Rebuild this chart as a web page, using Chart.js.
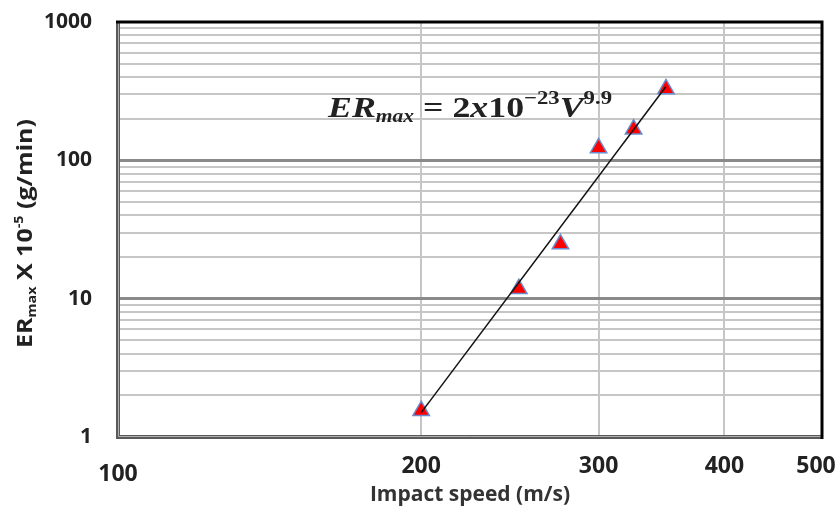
<!DOCTYPE html>
<html>
<head>
<meta charset="utf-8">
<script src="https://cdn.jsdelivr.net/npm/chart.js@4.4.1/dist/chart.umd.min.js"></script>
<style>
  html, body { margin: 0; padding: 0; background: #fff; }
</style>
</head>
<body>
<canvas id="erChart" width="840" height="513"></canvas>
<script>
// data
const speeds = [200, 250, 275, 300, 325, 350];
const erMax = [1.55, 11.8, 24.8, 123, 168, 328];
// fitted power line, two end points
const fitSpeeds = [200, 350];
const fitEr = [1.5, 342];

const xTicks = [100, 200, 300, 400, 500];
const yDecades = [1, 10, 100, 1000];
const yMinor = [1, 2, 3, 4, 5, 6, 7, 8, 9];

let yTicks = [];
yDecades.slice(0, 3).forEach(d => yMinor.forEach(m => yTicks.push(d * m)));
yTicks.push(1000);

const tickFont = '"Open Sans", sans-serif';
const serif = '"Liberation Serif", serif';

// draw a run of text pieces (for sub/superscripts), squeezed to a width
const drawRuns = (ctx, runs, x, y, width) => {
  let total = 0;
  runs.forEach(r => { ctx.font = r.f; total += ctx.measureText(r.t).width; });
  const sx = width / total;
  ctx.save();
  ctx.translate(x, y);
  ctx.scale(sx, 1);
  let cx = 0;
  runs.forEach(r => {
    ctx.font = r.f;
    ctx.fillText(r.t, cx, r.dy || 0);
    cx += ctx.measureText(r.t).width;
  });
  ctx.restore();
}

const extras = {
  id: 'extras',
  beforeDatasetsDraw(chart) {
    const { ctx, chartArea: a } = chart;
    ctx.save();
    // left + bottom frame, grey double line
    ctx.strokeStyle = '#5a5a5a';
    ctx.lineWidth = 4;
    ctx.beginPath();
    ctx.moveTo(a.left, a.top);
    ctx.lineTo(a.left, a.bottom);
    ctx.lineTo(a.right, a.bottom);
    ctx.stroke();
    ctx.strokeStyle = '#b0b0b0';
    ctx.lineWidth = 1;
    ctx.beginPath();
    ctx.moveTo(a.left + 0.5, a.top);
    ctx.lineTo(a.left + 0.5, a.bottom - 0.5);
    ctx.lineTo(a.right, a.bottom - 0.5);
    ctx.stroke();
    // top + right frame, black
    ctx.strokeStyle = '#000';
    ctx.lineWidth = 3;
    ctx.beginPath();
    ctx.moveTo(a.left - 2, a.top);
    ctx.lineTo(a.right, a.top);
    ctx.lineTo(a.right, a.bottom + 2);
    ctx.stroke();
    ctx.restore();
  },
  afterDraw(chart) {
    const ctx = chart.ctx;
    ctx.save();
    ctx.fillStyle = '#222';
    ctx.textBaseline = 'alphabetic';
    // equation
    drawRuns(ctx, [
      { t: 'ER', f: 'italic bold 30px ' + serif },
      { t: 'max', f: 'italic bold 18px ' + serif, dy: 5 },
      { t: ' = 2', f: 'bold 30px ' + serif },
      { t: 'x', f: 'italic bold 30px ' + serif },
      { t: '10', f: 'bold 30px ' + serif },
      { t: '\u221223', f: 'bold 19px ' + serif, dy: -13 },
      { t: 'V', f: 'italic bold 30px ' + serif },
      { t: '9.9', f: 'bold 19px ' + serif, dy: -13 }
    ], 328, 117, 284);

    // y axis title
    ctx.translate(32, 348);
    ctx.rotate(-Math.PI / 2);
    drawRuns(ctx, [
      { t: 'ER', f: 'bold 21px ' + tickFont },
      { t: 'max', f: 'bold 12px ' + tickFont, dy: 4 },
      { t: ' X 10', f: 'bold 21px ' + tickFont },
      { t: '-5', f: 'bold 12px ' + tickFont, dy: -9 },
      { t: ' (g/min)', f: 'bold 21px ' + tickFont }
    ], 0, 0, 229);
    ctx.restore();
  }
};

new Chart(document.getElementById('erChart'), {
  type: 'scatter',
  data: {
    datasets: [
      {
        label: 'fit',
        data: fitSpeeds.map((v, i) => ({ x: v, y: fitEr[i] })),
        showLine: true,
        borderColor: '#111',
        borderWidth: 1.5,
        pointRadius: 0
      },
      {
        label: 'ER max',
        data: speeds.map((v, i) => ({ x: v, y: erMax[i] })),
        pointStyle: 'triangle',
        pointRadius: 9.5,
        backgroundColor: '#ff0000',
        borderColor: '#6a8ccc',
        borderWidth: 1.5
      }
    ]
  },
  options: {
    responsive: false,
    animation: false,
    devicePixelRatio: 1,
    layout: { padding: { top: 22, right: 18, left: 0, bottom: 0 } },
    plugins: { legend: { display: false }, tooltip: { enabled: false } },
    scales: {
      x: {
        type: 'logarithmic',
        min: 100,
        max: 500,
        border: { display: false },
        afterBuildTicks: s => { s.ticks = xTicks.map(v => ({ value: v })) },
        afterFit: s => { s.height = 76; s.paddingLeft = 0; s.paddingRight = 0 },
        grid: {
          drawTicks: false,
          color: c => (c.tick && (c.tick.value === 100 || c.tick.value === 500)) ? 'rgba(0,0,0,0)' : '#c6c6c6',
          lineWidth: 2
        },
        ticks: {
          autoSkip: false,
          maxRotation: 0,
          padding: 16,
          color: '#222',
          font: c => ({ family: tickFont, weight: 'bold', size: 23,
            lineHeight: (c.tick && c.tick.value === 100) ? 0.61 : 1.2 }),
          // 100 sits lower and 500 is pulled in from the edge, as in the source
          callback: v => v === 100 ? ['', '100'] : (v === 500 ? '500  ' : String(v))
        },
        title: {
          display: true,
          text: 'Impact speed (m/s)',
          color: '#333',
          font: { family: tickFont, weight: 'bold', size: 21 },
          padding: { top: 0, bottom: 5 }
        }
      },
      y: {
        type: 'logarithmic',
        min: 1,
        max: 1000,
        border: { display: false },
        afterBuildTicks: s => { s.ticks = yTicks.map(v => ({ value: v })) },
        afterFit: s => { s.width = 118; s.paddingTop = 0; s.paddingBottom = 0 },
        grid: {
          drawTicks: false,
          color: c => {
            const v = c.tick && c.tick.value;
            if (v === 1 || v === 1000) return 'rgba(0,0,0,0)';
            return (v === 10 || v === 100) ? '#8a8a8a' : '#c6c6c6';
          },
          lineWidth: c => {
            const v = c.tick && c.tick.value;
            return (v === 10 || v === 100) ? 3 : 2;
          }
        },
        ticks: {
          autoSkip: false,
          padding: 26,
          color: '#222',
          font: { family: tickFont, weight: 'bold', size: 21 },
          callback: v => yDecades.includes(v) ? String(v) : ''
        }
      }
    }
  },
  plugins: [extras]
});
</script>
</body>
</html>
